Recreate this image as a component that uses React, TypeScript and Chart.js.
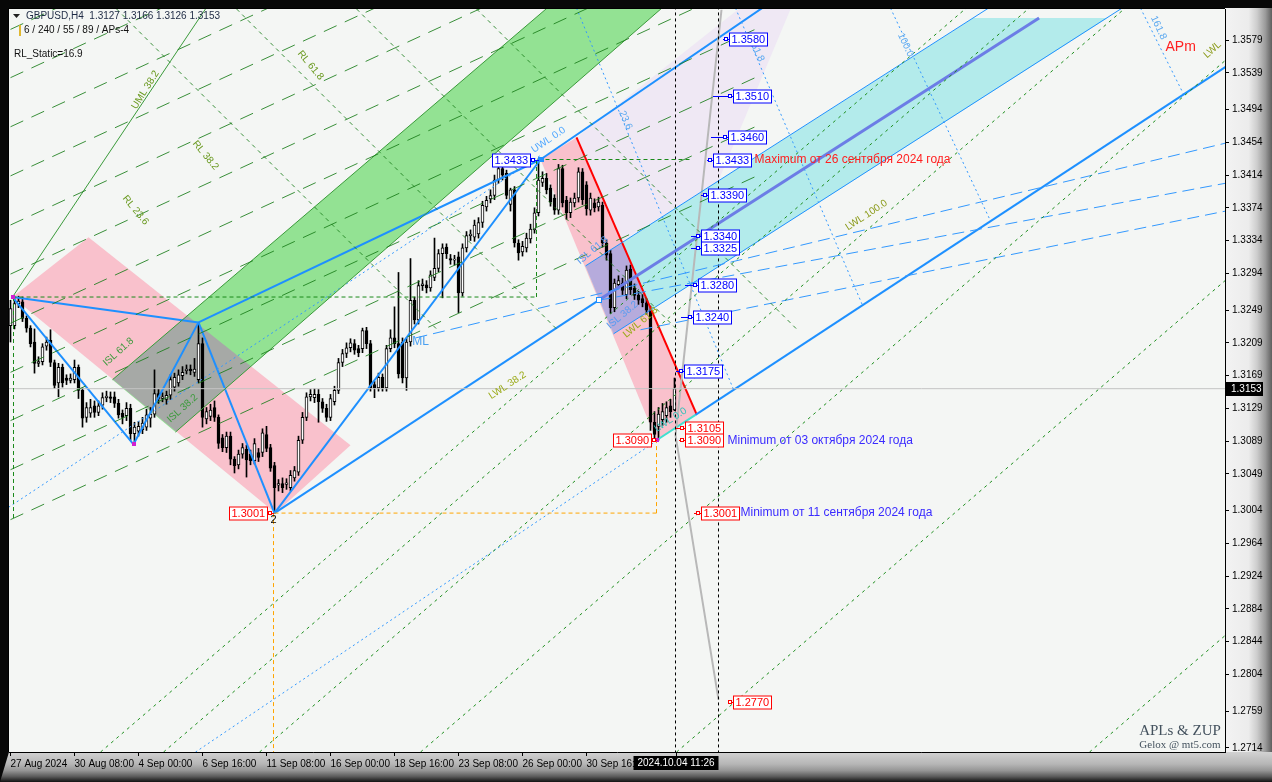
import React, { useEffect, useRef } from "react";
import { Chart, registerables } from "chart.js";

Chart.register(...registerables);

// ---------- candle data (GBPUSD H4) ----------
const opens = [1.3230,1.3230,1.3257,1.3259,1.3239,1.3227,1.3210,1.3184,1.3186,1.3205,
 1.3212,1.3185,1.3160,1.3179,1.3166,1.3163,1.3164,1.3179,1.3151,1.3118,
 1.3123,1.3132,1.3124,1.3133,1.3142,1.3143,1.3143,1.3135,1.3123,1.3120,
 1.3129,1.3098,1.3101,1.3103,1.3106,1.3117,1.3122,1.3147,1.3141,1.3140,
 1.3145,1.3155,1.3160,1.3169,1.3175,1.3177,1.3173,1.3164,1.3208,1.3116,
 1.3119,1.3130,1.3118,1.3093,1.3081,1.3095,1.3067,1.3060,1.3073,1.3079,
 1.3073,1.3065,1.3075,1.3075,1.3097,1.3081,1.3059,1.3035,1.3037,1.3036,
 1.3032,1.3044,1.3051,1.3090,1.3118,1.3143,1.3142,1.3146,1.3137,1.3129,
 1.3118,1.3137,1.3151,1.3185,1.3196,1.3203,1.3208,1.3202,1.3202,1.3224,
 1.3208,1.3158,1.3154,1.3167,1.3154,1.3202,1.3215,1.3208,1.3210,1.3166,
 1.3210,1.3261,1.3237,1.3279,1.3280,1.3276,1.3289,1.3300,1.3318,1.3326,
 1.3312,1.3310,1.3314,1.3270,1.3325,1.3340,1.3338,1.3342,1.3356,1.3375,
 1.3385,1.3389,1.3408,1.3422,1.3416,1.3378,1.3396,1.3331,1.3320,1.3325,
 1.3336,1.3347,1.3368,1.3405,1.3410,1.3398,1.3386,1.3371,1.3422,1.3383,
 1.3368,1.3380,1.3386,1.3418,1.3402,1.3371,1.3380,1.3375,1.3377,1.3331,
 1.3318,1.3252,1.3280,1.3282,1.3268,1.3299,1.3276,1.3267,1.3263,1.3258,
 1.3249,1.3112,1.3107,1.3115,1.3120,1.3132,1.3127];
const highs = [1.3261,1.3264,1.3266,1.3265,1.3242,1.3230,1.3226,1.3192,1.3208,1.3216,
 1.3225,1.3188,1.3184,1.3183,1.3170,1.3171,1.3188,1.3182,1.3154,1.3136,
 1.3140,1.3138,1.3138,1.3148,1.3150,1.3149,1.3149,1.3140,1.3127,1.3136,
 1.3134,1.3112,1.3113,1.3118,1.3128,1.3130,1.3176,1.3152,1.3148,1.3150,
 1.3170,1.3172,1.3176,1.3180,1.3182,1.3182,1.3190,1.3234,1.3215,1.3130,
 1.3134,1.3138,1.3121,1.3097,1.3100,1.3100,1.3070,1.3078,1.3086,1.3084,
 1.3078,1.3092,1.3080,1.3104,1.3107,1.3085,1.3063,1.3042,1.3044,1.3043,
 1.3053,1.3058,1.3095,1.3124,1.3148,1.3152,1.3153,1.3152,1.3141,1.3134,
 1.3146,1.3156,1.3190,1.3201,1.3209,1.3214,1.3213,1.3206,1.3227,1.3228,
 1.3212,1.3162,1.3172,1.3171,1.3206,1.3225,1.3253,1.3295,1.3215,1.3215,
 1.3312,1.3265,1.3285,1.3287,1.3285,1.3297,1.3337,1.3323,1.3330,1.3330,
 1.3317,1.3316,1.3320,1.3330,1.3345,1.3347,1.3359,1.3362,1.3382,1.3388,
 1.3396,1.3414,1.3428,1.3426,1.3420,1.3398,1.3400,1.3335,1.3333,1.3343,
 1.3354,1.3374,1.3434,1.3418,1.3416,1.3402,1.3390,1.3427,1.3426,1.3388,
 1.3386,1.3392,1.3423,1.3422,1.3406,1.3392,1.3385,1.3387,1.3381,1.3335,
 1.3322,1.3287,1.3291,1.3288,1.3303,1.3304,1.3281,1.3272,1.3268,1.3263,
 1.3254,1.3125,1.3130,1.3135,1.3137,1.3140,1.3166];
const lows = [1.3210,1.3226,1.3252,1.3235,1.3222,1.3204,1.3172,1.3180,1.3182,1.3200,
 1.3180,1.3153,1.3143,1.3155,1.3158,1.3160,1.3160,1.3141,1.3106,1.3112,
 1.3118,1.3118,1.3120,1.3128,1.3137,1.3136,1.3130,1.3117,1.3110,1.3114,
 1.3090,1.3085,1.3095,1.3098,1.3102,1.3106,1.3118,1.3135,1.3137,1.3134,
 1.3140,1.3150,1.3156,1.3164,1.3171,1.3170,1.3168,1.3160,1.3106,1.3110,
 1.3114,1.3113,1.3080,1.3076,1.3075,1.3060,1.3050,1.3055,1.3068,1.3045,
 1.3060,1.3061,1.3064,1.3070,1.3076,1.3052,1.3001,1.3028,1.3026,1.3030,
 1.3028,1.3040,1.3047,1.3086,1.3114,1.3138,1.3136,1.3112,1.3124,1.3113,
 1.3114,1.3133,1.3147,1.3180,1.3191,1.3198,1.3195,1.3192,1.3197,1.3202,
 1.3150,1.3142,1.3150,1.3150,1.3150,1.3198,1.3203,1.3166,1.3160,1.3151,
 1.3205,1.3232,1.3232,1.3273,1.3270,1.3272,1.3285,1.3296,1.3264,1.3312,
 1.3305,1.3304,1.3246,1.3266,1.3320,1.3334,1.3333,1.3337,1.3350,1.3370,
 1.3380,1.3384,1.3404,1.3408,1.3385,1.3370,1.3326,1.3310,1.3315,1.3320,
 1.3331,1.3343,1.3364,1.3400,1.3391,1.3376,1.3366,1.3366,1.3375,1.3360,
 1.3362,1.3375,1.3381,1.3378,1.3365,1.3365,1.3369,1.3370,1.3326,1.3310,
 1.3245,1.3247,1.3276,1.3268,1.3263,1.3268,1.3262,1.3256,1.3253,1.3244,
 1.3102,1.3090,1.3090,1.3108,1.3112,1.3118,1.3126];
const closes = [1.3251,1.3257,1.3260,1.3239,1.3227,1.3208,1.3184,1.3186,1.3204,1.3210,
 1.3185,1.3157,1.3179,1.3160,1.3163,1.3166,1.3179,1.3151,1.3117,1.3130,
 1.3130,1.3124,1.3132,1.3142,1.3144,1.3141,1.3135,1.3121,1.3118,1.3129,
 1.3098,1.3106,1.3107,1.3111,1.3121,1.3122,1.3147,1.3141,1.3143,1.3145,
 1.3164,1.3167,1.3170,1.3173,1.3177,1.3175,1.3177,1.3208,1.3118,1.3125,
 1.3127,1.3118,1.3086,1.3081,1.3095,1.3067,1.3059,1.3073,1.3081,1.3066,
 1.3065,1.3086,1.3069,1.3099,1.3080,1.3056,1.3032,1.3037,1.3032,1.3038,
 1.3047,1.3053,1.3090,1.3118,1.3143,1.3146,1.3146,1.3137,1.3129,1.3118,
 1.3141,1.3151,1.3185,1.3196,1.3203,1.3209,1.3200,1.3197,1.3224,1.3208,
 1.3154,1.3154,1.3167,1.3154,1.3202,1.3215,1.3208,1.3171,1.3166,1.3210,
 1.3261,1.3237,1.3279,1.3281,1.3276,1.3292,1.3300,1.3318,1.3325,1.3318,
 1.3310,1.3311,1.3270,1.3325,1.3340,1.3342,1.3353,1.3356,1.3377,1.3383,
 1.3389,1.3408,1.3422,1.3414,1.3389,1.3396,1.3331,1.3319,1.3327,1.3337,
 1.3348,1.3368,1.3408,1.3410,1.3396,1.3381,1.3371,1.3422,1.3380,1.3368,
 1.3381,1.3386,1.3418,1.3384,1.3373,1.3386,1.3374,1.3381,1.3331,1.3316,
 1.3252,1.3282,1.3285,1.3273,1.3298,1.3274,1.3267,1.3261,1.3258,1.3249,
 1.3112,1.3097,1.3122,1.3125,1.3130,1.3125,1.3153];

// ---------- axes ----------
const timeTickIndex = [0, 16, 32, 48, 64, 80, 96, 112, 128, 144];
const timeTickLabels = ["27 Aug 2024", "30 Aug 08:00", "4 Sep 00:00", "6 Sep 16:00", "11 Sep 08:00",
  "16 Sep 00:00", "18 Sep 16:00", "23 Sep 08:00", "26 Sep 00:00", "30 Sep 16:00"];
const priceTicks = [1.3579, 1.3539, 1.3494, 1.3454, 1.3414, 1.3374, 1.3334, 1.3294, 1.3249, 1.3209,
  1.3169, 1.3129, 1.3089, 1.3049, 1.3004, 1.2964, 1.2924, 1.2884, 1.2844, 1.2804, 1.2759, 1.2714];
const X_MIN = -0.375, X_MAX = 303.625, Y_MIN = 1.27091, Y_MAX = 1.36169;
const lastPrice = 1.3153;
const cursorIndex = 166.25;
const cursorTimeLabel = "2024.10.04 11:26";

// ---------- filled zones [barIndex, price] ----------
const pinkBandA = [[19.5, 1.3338], [85, 1.3084], [66.25, 1.3001], [0.5, 1.3265]];
const greenBand = [[25.5, 1.3164], [139.4, 1.3640], [168, 1.3640], [41.25, 1.3100]];
const pinkBandB = [[132.5, 1.3433], [141.5, 1.3460], [171.5, 1.3122], [161.5, 1.3090]];
const cyanBand = [[143.75, 1.3303], [240.75, 1.3606], [274.25, 1.3606], [150.75, 1.3220]];
const lavenderZone = [[141.5, 1.3460], [188, 1.3640], [197, 1.3640], [177, 1.3407], [152.8, 1.3333]];

// ---------- lines ----------
const thickBlue = [
  [[0.5, 1.3265], [30.75, 1.3085]],
  [[30.75, 1.3085], [47, 1.3234]],
  [[0.5, 1.3265], [47, 1.3234]],
  [[47, 1.3234], [66, 1.3001]],
  [[47, 1.3234], [132.5, 1.3433]],
  [[66, 1.3001], [132.5, 1.3433]],
  [[66, 1.3001], [147, 1.3261]],
  [[132.5, 1.3433], [190, 1.3625]],
  [[171.25, 1.3121], [304, 1.3547]],
];
const lwlZero = [[161.5, 1.3090], [171.25, 1.3121]];
const medianLine = [[147, 1.3261], [257.15, 1.3606]];
const thinBlue = [
  [[143.75, 1.3303], [244.5, 1.3618]],
  [[150.75, 1.3220], [277.9, 1.3618]],
];
const redLine = [[141.5, 1.3460], [171.5, 1.3122]];
const grayPath = [[177.75, 1.3616], [166.25, 1.3096], [177, 1.2773]];
const blueDashed = [
  [[101.25, 1.3215], [303.75, 1.3453]],
  [[147, 1.3261], [303.75, 1.3404]],
  [[157.5, 1.3225], [303.75, 1.3370]],
];
const blueDotted = [
  [[-0.5, 1.3008], [132.5, 1.3438]],
  [[46.25, 1.2709], [161.75, 1.3090]],
  [[141.5, 1.3618], [180.75, 1.3152]],
  [[181.25, 1.3618], [213, 1.3255]],
  [[220, 1.3618], [245, 1.3358]],
  [[282.5, 1.3618], [293.25, 1.3513]],
];
const greenDotted = [
  [[22.5, 1.2709], [272.5, 1.3759]],
  [[38.25, 1.2709], [288.25, 1.3759]],
  [[62.25, 1.2709], [312.25, 1.3759]],
  [[102.5, 1.2709], [352.5, 1.3759]],
  [[166.5, 1.2709], [416.5, 1.3759]],
  [[269.75, 1.2709], [519.75, 1.3759]],
];
const greenLongDash = [
  [[0, 1.2993], [187.5, 1.3415]],
  [[0, 1.3054], [187.5, 1.3476]],
  [[0, 1.3114], [187.5, 1.3536]],
  [[0, 1.3173], [187.5, 1.3595]],
  [[0, 1.3233], [187.5, 1.3655]],
  [[0, 1.3293], [187.5, 1.3715]],
  [[0, 1.3353], [187.5, 1.3775]],
  [[0, 1.3413], [187.5, 1.3835]],
  [[0, 1.3473], [187.5, 1.3895]],
  [[0, 1.3533], [187.5, 1.3955]],
  [[0, 1.3592], [187.5, 1.4014]],
];
const greenShortDash = [
  [[26.5, 1.3617], [106.5, 1.3226]],
  [[56.5, 1.3617], [136.5, 1.3226]],
  [[86.5, 1.3617], [166.5, 1.3226]],
  [[116.5, 1.3617], [196.5, 1.3226]],
];
const greenSolid = [
  [[0.5, 1.3265], [48.75, 1.3617]],
  [[25.5, 1.3164], [139.4, 1.3640]],
  [[41.25, 1.3100], [168, 1.3640]],
];
const greenLevels = [
  [[0.5, 1.3265], [131.5, 1.3265]],
  [[131.5, 1.3265], [131.5, 1.3433]],
  [[132, 1.3433], [170, 1.3433]],
  [[0.75, 1.3265], [0.75, 1.2995]],
];
const orangeLevels = [
  [[66, 1.3001], [161.5, 1.3001]],
  [[161.5, 1.3001], [161.5, 1.3090]],
  [[65.75, 1.3001], [65.75, 1.2700]],
];
const timeMarkers = [166.25, 177];

// ---------- price tags ----------
const rightTagValues = [1.3580, 1.3510, 1.3460, 1.3433, 1.3390, 1.3340, 1.3325, 1.3280, 1.3240, 1.3175, 1.3105, 1.3090, 1.3001, 1.2770];
const rightTagAnchor = [178, 175.5, 175, 174, 172.5, 170, 170, 168.5, 167.5, 166.25, 166.25, 167, 170.75, 179.25];
const rightTagBox = [179.5, 180.75, 179.25, 175.5, 174.25, 172.5, 172.5, 171.75, 170.5, 168.25, 168.5, 168.5, 172.5, 180.75];
const rightTagRed = [false, false, false, false, false, false, false, false, false, false, true, true, true, true];
const leftTagValues = [1.3433, 1.3090, 1.3001];
const leftTagAnchor = [132, 161.5, 65.75];
const leftTagBoxEnd = [129.75, 160, 64];
const leftTagRed = [false, true, true];

const noteTexts = ["Maximum от 26 сентября 2024 года", "Minimum от 03 октября 2024 года", "Minimum от 11 сентября 2024 года"];
const noteAt = [[186, 1.3433], [179.25, 1.3090], [182.5, 1.3001]];
const noteColor = ["#ff2020", "#3a2bff", "#3a2bff"];

const slantTexts = ["UWL 0.0", "LWL 38.2", "LWL 61.8", "LWL 0.0", "ISL 61.8", "ISL 38.2", "LWL 100.0", "LWL",
  "ISL 61.8", "ISL 38.2", "RL 61.8", "UML 38.2", "RL 38.2", "RL 23.6", "23.6", "61.8", "100.0", "161.8", "ML"];
const slantAt = [[134.5, 1.3457], [124.25, 1.3157], [157.5, 1.3234], [165, 1.3115], [145.5, 1.3322], [153, 1.3243],
  [214, 1.3365], [300.5, 1.3567], [27, 1.3198], [43, 1.3129], [75, 1.3548], [33.75, 1.3518], [48.75, 1.3438],
  [31.25, 1.3371], [153.75, 1.3481], [186.75, 1.3564], [223.75, 1.3573], [287, 1.3594], [102.5, 1.3211]];
const slantAngle = [-34, -33, -40, -33, -40, -40, -33, -42, -42, -42, 50, -58, 50, 50, 65, 65, 65, 65, 0];
const slantColor = ["#4da6ff", "#9aaa18", "#9aaa18", "#30c0b8", "#5a9cf0", "#5a9cf0", "#8a9a18", "#8a9a18",
  "#3a9a3a", "#3a9a3a", "#6a9a20", "#6a9a20", "#6a9a20", "#6a9a20", "#5aa8f0", "#5aa8f0", "#5aa8f0", "#5aa8f0", "#4aa0f0"];

const pivotMarks = [[132.5, 1.3433], [147, 1.3261], [161.5, 1.3090], [30.75, 1.3085], [0.5, 1.3265]];

const FONT = "'Liberation Sans', Arial, sans-serif";

const lineDs = (pts, color, width, dash = [], order = 0) => ({
  type: "line",
  data: pts.map(([x, y]) => ({ x, y })),
  borderColor: color,
  borderWidth: width,
  borderDash: dash,
  pointRadius: 0,
  pointHoverRadius: 0,
  fill: false,
  tension: 0,
  clip: 0,
  order,
});

const decorPlugin = {
  id: "decor",
  beforeDraw(chart) {
    const { ctx, chartArea: ca } = chart;
    const W = chart.width, H = chart.height;
    const xs = chart.scales.x, ys = chart.scales.y;
    const trace = (poly) => {
      ctx.beginPath();
      poly.forEach((p, k) => {
        const x = xs.getPixelForValue(p[0]), y = ys.getPixelForValue(p[1]);
        if (k) ctx.lineTo(x, y); else ctx.moveTo(x, y);
      });
      ctx.closePath();
    };
    ctx.save();
    ctx.fillStyle = "#080808";
    ctx.fillRect(0, 0, W, H);
    let g = ctx.createLinearGradient(ca.right, 0, W, 0);
    g.addColorStop(0, "#f3f3f3");
    g.addColorStop(0.5, "#ececec");
    g.addColorStop(0.68, "#cdcdcd");
    g.addColorStop(0.86, "#9a9a9a");
    g.addColorStop(1, "#5e5e5e");
    ctx.fillStyle = g;
    ctx.fillRect(ca.right, ca.top - 1, W - ca.right, H - ca.top + 1);
    g = ctx.createLinearGradient(0, ca.bottom, 0, H);
    g.addColorStop(0, "#d2d2d2");
    g.addColorStop(0.4, "#b6b6b6");
    g.addColorStop(0.62, "#959595");
    g.addColorStop(0.82, "#5a5a5a");
    g.addColorStop(1, "#121212");
    ctx.fillStyle = g;
    ctx.beginPath();
    ctx.moveTo(ca.left, ca.bottom);
    ctx.lineTo(W, ca.bottom);
    ctx.lineTo(W, H);
    ctx.lineTo(0, H);
    ctx.closePath();
    ctx.fill();
    ctx.fillStyle = "#f4f6f4";
    ctx.fillRect(ca.left, ca.top, ca.right - ca.left, ca.bottom - ca.top);

    ctx.beginPath();
    ctx.rect(ca.left, ca.top, ca.right - ca.left, ca.bottom - ca.top);
    ctx.clip();
    const fillPoly = (poly, color) => { trace(poly); ctx.fillStyle = color; ctx.fill(); };
    fillPoly(lavenderZone, "#efe8f4");
    fillPoly(pinkBandA, "#f9c1cc");
    fillPoly(pinkBandB, "#f9c1cc");
    fillPoly(greenBand, "#93e293");
    fillPoly(cyanBand, "#b3ebeb");
    ctx.save(); trace(pinkBandA); ctx.clip(); fillPoly(greenBand, "#a6a9a6"); ctx.restore();
    ctx.save(); trace(pinkBandB); ctx.clip(); fillPoly(cyanBand, "#b6abdc"); ctx.restore();
    ctx.restore();
  },
  afterDatasetsDraw(chart) {
    const { ctx, chartArea: ca } = chart;
    const xs = chart.scales.x, ys = chart.scales.y;
    const X = (v) => xs.getPixelForValue(v), Y = (v) => ys.getPixelForValue(v);
    ctx.save();
    ctx.beginPath();
    ctx.rect(ca.left, ca.top, ca.right - ca.left, ca.bottom - ca.top);
    ctx.clip();

    pivotMarks.forEach((p, k) => {
      const x = Math.round(X(p[0])), y = Math.round(Y(p[1]));
      if (k === 0) { ctx.fillStyle = "#1e90ff"; ctx.fillRect(x - 3, y - 3, 6, 5); }
      else if (k === 1) { ctx.fillStyle = "#fff"; ctx.fillRect(x - 3, y - 3, 6, 6); ctx.strokeStyle = "#1e90ff"; ctx.lineWidth = 1; ctx.strokeRect(x - 2.5, y - 2.5, 5, 5); }
      else { ctx.fillStyle = "#d020d0"; ctx.fillRect(x - 2, y - 2, 4, 4); }
    });

    slantTexts.forEach((t, k) => {
      ctx.save();
      ctx.translate(X(slantAt[k][0]), Y(slantAt[k][1]));
      ctx.rotate((slantAngle[k] * Math.PI) / 180);
      ctx.font = `${k === slantTexts.length - 1 ? 12 : 10}px ${FONT}`;
      ctx.fillStyle = slantColor[k];
      ctx.textAlign = "center";
      ctx.textBaseline = "middle";
      ctx.fillText(t, 0, 0);
      ctx.restore();
    });

    ctx.font = `11px ${FONT}`;
    ctx.fillStyle = "#000";
    ctx.textAlign = "center";
    ctx.textBaseline = "top";
    ctx.fillText("2", X(65.75), Y(1.3001) + 1);

    ctx.font = `14px ${FONT}`;
    ctx.fillStyle = "#ff2020";
    ctx.textAlign = "left";
    ctx.textBaseline = "middle";
    ctx.fillText("APm", X(288.75), Y(1.3570));

    const tag = (value, anchor, boxEdge, red, leftSide) => {
      const color = red ? "#ff0000" : "#0000ff";
      const y = Math.round(Y(value)) + 0.5;
      ctx.font = `11px ${FONT}`;
      const text = value.toFixed(4);
      const w = Math.round(ctx.measureText(text).width) + 4, h = 13;
      const edge = Math.round(X(boxEdge));
      const bx = leftSide ? edge - w : edge;
      const ax = Math.round(X(anchor));
      ctx.strokeStyle = color;
      ctx.lineWidth = 1;
      ctx.beginPath();
      ctx.moveTo(ax, y);
      ctx.lineTo(leftSide ? bx + w : bx, y);
      ctx.stroke();
      const sq = leftSide ? bx + w + 1 : bx - 5;
      ctx.fillStyle = "#fff";
      ctx.fillRect(sq, y - 2.5, 4, 4);
      ctx.strokeRect(sq + 0.5, y - 2, 3, 3);
      ctx.fillStyle = "#fff";
      ctx.fillRect(bx, y - h / 2, w, h);
      ctx.strokeRect(bx + 0.5, y - h / 2, w, h);
      ctx.fillStyle = color;
      ctx.textAlign = "left";
      ctx.textBaseline = "middle";
      ctx.fillText(text, bx + 2.5, y + 0.5);
    };
    rightTagValues.forEach((v, k) => tag(v, rightTagAnchor[k], rightTagBox[k], rightTagRed[k], false));
    leftTagValues.forEach((v, k) => tag(v, leftTagAnchor[k], leftTagBoxEnd[k], leftTagRed[k], true));

    ctx.font = `12px ${FONT}`;
    ctx.textAlign = "left";
    ctx.textBaseline = "middle";
    noteTexts.forEach((t, k) => {
      ctx.fillStyle = noteColor[k];
      ctx.fillText(t, X(noteAt[k][0]), Y(noteAt[k][1]));
    });
    ctx.restore();
  },
  afterDraw(chart) {
    const { ctx, chartArea: ca } = chart;
    const xs = chart.scales.x, ys = chart.scales.y;
    ctx.save();
    ctx.fillStyle = "#000";
    ctx.fillRect(ca.left - 1, ca.top - 1, ca.right - ca.left + 1, 1);
    ctx.fillRect(ca.left - 1, ca.top - 1, 1, ca.bottom - ca.top + 1);

    const py = Math.round(ys.getPixelForValue(lastPrice));
    ctx.fillStyle = "#000";
    ctx.fillRect(ca.right + 1, py - 7, 37, 14);
    ctx.font = `10px ${FONT}`;
    ctx.fillStyle = "#fff";
    ctx.textAlign = "left";
    ctx.textBaseline = "middle";
    ctx.fillText(lastPrice.toFixed(4), ca.right + 6, py + 0.5);

    const cx = Math.round(xs.getPixelForValue(cursorIndex));
    ctx.font = `10px ${FONT}`;
    const tw = Math.round(ctx.measureText(cursorTimeLabel).width) + 8;
    ctx.fillStyle = "#000";
    ctx.fillRect(cx - tw / 2, ca.bottom + 4, tw, 14);
    ctx.fillRect(cx, ca.bottom, 1, 4);
    ctx.fillStyle = "#fff";
    ctx.textAlign = "center";
    ctx.fillText(cursorTimeLabel, cx, ca.bottom + 11.5);

    ctx.fillStyle = "#202020";
    ctx.beginPath();
    ctx.moveTo(ca.left + 4, ca.top + 5);
    ctx.lineTo(ca.left + 11, ca.top + 5);
    ctx.lineTo(ca.left + 7.5, ca.top + 9);
    ctx.closePath();
    ctx.fill();
    ctx.font = `10px ${FONT}`;
    ctx.textAlign = "left";
    ctx.textBaseline = "middle";
    ctx.fillStyle = "#1e2a44";
    ctx.fillText("GBPUSD,H4  1.3127 1.3166 1.3126 1.3153", ca.left + 17, ca.top + 7.5);
    ctx.fillStyle = "#e0b830";
    ctx.fillRect(ca.left + 10, ca.top + 16, 2, 11);
    ctx.fillStyle = "#111";
    ctx.fillText("6 / 240 / 55 / 89 / APs-4", ca.left + 15, ca.top + 21.5);
    ctx.fillText("RL_Static=16.9", ca.left + 5, ca.top + 45);

    ctx.textAlign = "center";
    ctx.fillStyle = "#44525e";
    ctx.font = "15px 'Liberation Serif', serif";
    ctx.fillText("APLs & ZUP", ca.right - 45, ca.bottom - 21);
    ctx.font = "11px 'Liberation Serif', serif";
    ctx.fillText("Gelox @ mt5.com", ca.right - 45, ca.bottom - 7);
    ctx.restore();
  },
};

export default function App() {
  const ref = useRef(null);
  useEffect(() => {
    const canvas = ref.current;
    if (!canvas) return;
    const bodies = {
      type: "bar",
      data: opens.map((o, k) => ({ x: k, y: [o, closes[k]] })),
      backgroundColor: opens.map((o, k) => (closes[k] >= o ? "#ffffff" : "#000000")),
      borderColor: "#000000",
      borderWidth: 1,
      borderSkipped: false,
      barThickness: 3,
      minBarLength: 1,
      grouped: false,
      order: 1,
    };
    const wicks = {
      type: "bar",
      data: lows.map((l, k) => ({ x: k, y: [l, highs[k]] })),
      backgroundColor: "#000000",
      borderWidth: 0,
      barThickness: 1,
      grouped: false,
      order: 2,
    };
    const lines = [];
    greenLongDash.forEach((s) => lines.push(lineDs(s, "rgba(25,125,25,0.85)", 1, [14, 9])));
    greenShortDash.forEach((s) => lines.push(lineDs(s, "rgba(25,125,25,0.85)", 1, [4, 4])));
    greenDotted.forEach((s) => lines.push(lineDs(s, "#1f8f1f", 1, [3, 4])));
    greenSolid.forEach((s) => lines.push(lineDs(s, "#3a9a3a", 1)));
    greenLevels.forEach((s) => lines.push(lineDs(s, "#1a8a1a", 1, [4, 3])));
    orangeLevels.forEach((s) => lines.push(lineDs(s, "#ffa500", 1, [4, 3])));
    blueDashed.forEach((s) => lines.push(lineDs(s, "#3399ff", 1, [12, 6])));
    blueDotted.forEach((s) => lines.push(lineDs(s, "#3399ff", 1, [2, 3])));
    timeMarkers.forEach((t) => lines.push(lineDs([[t, 1.2700], [t, 1.3700]], "#000000", 1, [3, 3])));
    lines.push(lineDs([[-1, lastPrice], [305, lastPrice]], "#c4c4c4", 1));
    thinBlue.forEach((s) => lines.push(lineDs(s, "#1e90ff", 1)));
    lines.push(lineDs(medianLine, "#6c7de6", 3));
    lines.push(lineDs(grayPath, "#b8b8b8", 2));
    thickBlue.forEach((s) => lines.push(lineDs(s, "#1e90ff", 2)));
    lines.push(lineDs(lwlZero, "#40e0d0", 2));
    lines.push(lineDs(redLine, "#ff0000", 2));

    const chart = new Chart(canvas, {
      type: "bar",
      data: { datasets: [bodies, wicks, ...lines] },
      options: {
        responsive: false,
        animation: false,
        devicePixelRatio: 1,
        events: [],
        layout: { padding: { left: 9, top: 9, right: 0, bottom: 0 } },
        plugins: { legend: { display: false }, tooltip: { enabled: false } },
        scales: {
          x: {
            type: "linear",
            position: "bottom",
            min: X_MIN,
            max: X_MAX,
            offset: false,
            afterBuildTicks: (ax) => { ax.ticks = timeTickIndex.map((v) => ({ value: v })); },
            afterFit: (ax) => { ax.height = 30; },
            grid: { display: true, drawOnChartArea: false, drawTicks: true, tickLength: 4, color: "#000", offset: false },
            border: { display: true, color: "#000" },
            ticks: {
              autoSkip: false, maxRotation: 0, minRotation: 0, align: "start", padding: 2, color: "#000",
              font: { family: FONT, size: 10 },
              callback: (v, k) => timeTickLabels[k] ?? "",
            },
          },
          y: {
            type: "linear",
            position: "right",
            min: Y_MIN,
            max: Y_MAX,
            afterBuildTicks: (ax) => { ax.ticks = priceTicks.map((v) => ({ value: v })); },
            afterFit: (ax) => { ax.width = 47; },
            grid: { display: true, drawOnChartArea: false, drawTicks: true, tickLength: 4, color: "#000" },
            border: { display: true, color: "#000" },
            ticks: { padding: 3, color: "#000", font: { family: FONT, size: 10 }, callback: (v) => Number(v).toFixed(4) },
          },
        },
      },
      plugins: [decorPlugin],
    });
    return () => chart.destroy();
  }, []);
  return (
    <div style={{ position: "fixed", left: 0, top: 0, width: 1272, height: 782, background: "#000" }}>
      <canvas ref={ref} width={1272} height={782} style={{ display: "block", width: 1272, height: 782 }} />
    </div>
  );
}
